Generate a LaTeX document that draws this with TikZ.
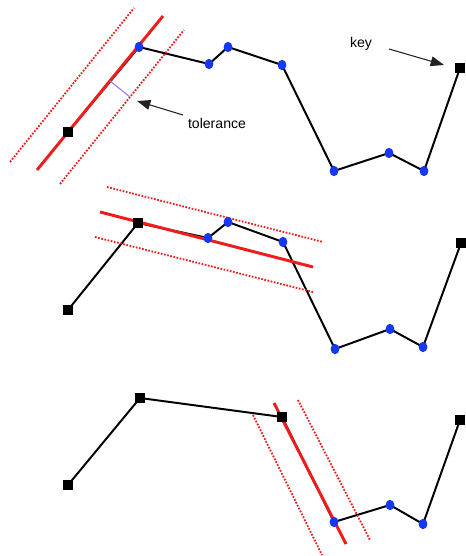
\documentclass[tikz,border=0pt]{standalone}
\usepackage{fontspec}
\setmainfont{Liberation Sans}
\usepackage{tikz}
\usetikzlibrary{positioning,arrows.meta,backgrounds,shapes.geometric}
\definecolor{trackred}{HTML}{EE1C1C}
\definecolor{ptblue}{HTML}{1638F2}
\definecolor{tolviolet}{HTML}{A678E6}
\definecolor{dark}{HTML}{222222}
\tikzset{
    keypt/.style={rectangle, fill=black, inner sep=0pt, minimum size=0.25cm},
    pt/.style={ellipse, fill=ptblue, inner sep=0pt, minimum width=0.22cm, minimum height=0.26cm},
    track/.style={line width=1.4pt, color=black},
    fitline/.style={line width=2.1pt, color=trackred},
    band/.style={line width=1.3pt, color=trackred, dash pattern=on 1.2pt off 1.1pt},
    pointer/.style={-{Triangle[length=9.5pt,width=7pt]}, line width=0.75pt, color=dark},
    textlabel/.style={font=\fontsize{10}{12}\selectfont, inner sep=1pt}
}

\begin{document}
\begin{tikzpicture}[x=0.025cm, y=-0.025cm]
\useasboundingbox (0,0) rectangle (465,556);

% top: first segment, key to key
\node[keypt] (a1) at (68,132) {};
\node[pt] (a2) at (139,47) {};
\node[pt] (a3) at (209,64) {};
\node[pt] (a4) at (228,47) {};
\node[pt] (a5) at (282,65) {};
\node[pt] (a6) at (334,171) {};
\node[pt] (a7) at (389,153) {};
\node[pt] (a8) at (424,171) {};
\node[keypt] (a9) at (460,68) {};

\coordinate (a-fit1) at (37,170);  \coordinate (a-fit2) at (163,16);
\coordinate (a-lo1) at (10,162);   \coordinate (a-lo2) at (134,8);
\coordinate (a-hi1) at (60,184);   \coordinate (a-hi2) at (184,30);
\coordinate (a-tol1) at (110,81);  \coordinate (a-tol2) at (130,97);

\node[textlabel] (tol) at (217,123) {tolerance};
\node[textlabel] (key) at (361,44) {key};
\coordinate (tol-from) at (183,115);
\coordinate (tol-to) at (137,101);
\coordinate (key-from) at (389,49);
\coordinate (key-to) at (444,65);

% middle: second segment
\node[keypt] (b1) at (68,310) {};
\node[keypt] (b2) at (138,223) {};
\node[pt] (b3) at (208,238) {};
\node[pt] (b4) at (228,222) {};
\node[pt] (b5) at (283,242) {};
\node[pt] (b6) at (335,349) {};
\node[pt] (b7) at (390,329) {};
\node[pt] (b8) at (423,347) {};
\node[keypt] (b9) at (461,243) {};

\coordinate (b-fit1) at (100,212); \coordinate (b-fit2) at (313,267);
\coordinate (b-lo1) at (107,187);  \coordinate (b-lo2) at (323,242);
\coordinate (b-hi1) at (95,237);   \coordinate (b-hi2) at (313,292);

% bottom: third segment
\node[keypt] (c1) at (68,485) {};
\node[keypt] (c2) at (140,398) {};
\node[keypt] (c3) at (282,417) {};
\node[pt] (c4) at (334,522) {};
\node[pt] (c5) at (390,505) {};
\node[pt] (c6) at (423,524) {};
\node[keypt] (c7) at (460,420) {};

\coordinate (c-fit1) at (274,403); \coordinate (c-fit2) at (346,544);
\coordinate (c-lo1) at (253,415);  \coordinate (c-lo2) at (322,555);
\coordinate (c-hi1) at (298,400);  \coordinate (c-hi2) at (370,540);

\begin{scope}[on background layer]
\draw[track] (a1.center) -- (a2.center) -- (a3.center) -- (a4.center) -- (a5.center)
    -- (a6.center) -- (a7.center) -- (a8.center) -- (a9.center);
\draw[band] (a-lo1) -- (a-lo2);
\draw[band] (a-hi1) -- (a-hi2);
\draw[fitline] (a-fit1) -- (a-fit2);
\draw[tolviolet, line width=0.8pt] (a-tol1) -- (a-tol2);

\draw[track] (b1.center) -- (b2.center) -- (b3.center) -- (b4.center) -- (b5.center)
    -- (b6.center) -- (b7.center) -- (b8.center) -- (b9.center);
\draw[band] (b-lo1) -- (b-lo2);
\draw[band] (b-hi1) -- (b-hi2);
\draw[fitline] (b-fit1) -- (b-fit2);

\draw[track] (c1.center) -- (c2.center) -- (c3.center) -- (c4.center) -- (c5.center)
    -- (c6.center) -- (c7.center);
\draw[band] (c-lo1) -- (c-lo2);
\draw[band] (c-hi1) -- (c-hi2);
\draw[fitline] (c-fit1) -- (c-fit2);
\end{scope}

\draw[pointer] (tol-from) -- (tol-to);
\draw[pointer] (key-from) -- (key-to);

\end{tikzpicture}
\end{document}
